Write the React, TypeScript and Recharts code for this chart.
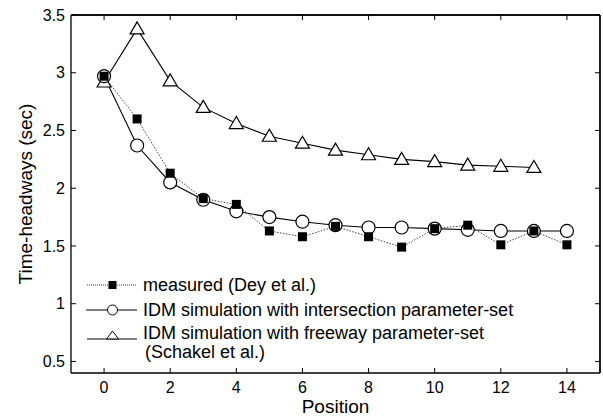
import React from 'react';
import { LineChart, Line, XAxis, YAxis, Legend, CartesianGrid, ReferenceLine } from 'recharts';

// positions along the platoon
const positions = [0, 1, 2, 3, 4, 5, 6, 7, 8, 9, 10, 11, 12, 13, 14];
// measured headways (Dey et al.)
const measured = [2.97, 2.6, 2.13, 1.91, 1.86, 1.63, 1.58, 1.67, 1.58, 1.49, 1.65, 1.68, 1.51, 1.63, 1.51];
// IDM, intersection parameter-set
const intersection = [2.97, 2.37, 2.05, 1.9, 1.8, 1.75, 1.71, 1.68, 1.66, 1.66, 1.65, 1.64, 1.63, 1.63, 1.63];
// IDM, freeway parameter-set (no value at 14)
const freeway = [2.92, 3.38, 2.93, 2.7, 2.56, 2.45, 2.39, 2.33, 2.29, 2.25, 2.23, 2.2, 2.19, 2.18, null];

const xTicks = [0, 2, 4, 6, 8, 10, 12, 14];
const yTicks = [0.5, 1, 1.5, 2, 2.5, 3, 3.5];
const xDomain = [-1, 15];
const yDomain = [0.4, 3.5];

const data = positions.map((p, i) => ({
  pos: p,
  measured: measured[i],
  intersection: intersection[i],
  freeway: freeway[i],
}));

const FONT = '"Liberation Sans", Arial, sans-serif';
const W = 603;
const H = 416;
const M = { top: 15, right: 3, bottom: 0, left: 0 };

// ticks point into the plot (matlab style), mirrored on the opposite edge too
const BottomTick = ({ x, y, payload }: any) => (
  <g>
    <path d={`M${x},${y}V${y - 5}M${x},${M.top}V${M.top + 5}`} stroke="#000" strokeWidth={1} fill="none" />
    <text x={x} y={y + 9} dy="0.71em" textAnchor="middle" fontSize={16} fontFamily={FONT} fill="#000">
      {payload.value}
    </text>
  </g>
);
const LeftTick = ({ x, y, payload }: any) => (
  <g>
    <path d={`M${x},${y}H${x + 5}M${W - M.right},${y}H${W - M.right - 5}`} stroke="#000" strokeWidth={1} fill="none" />
    <text x={x - 6} y={y} dy="0.355em" textAnchor="end" fontSize={16} fontFamily={FONT} fill="#000">
      {payload.value}
    </text>
  </g>
);

const Square = (props: any) => {
  const { cx, cy, index } = props;
  if (cx == null || cy == null) return <g key={`sq-${index}`} />;
  return <rect key={`sq-${index}`} x={cx - 4.5} y={cy - 4.5} width={9} height={9} fill="#000" />;
};

const Triangle = (props: any) => {
  const { cx, cy, index } = props;
  if (cx == null || cy == null) return <g key={`tr-${index}`} />;
  return (
    <polygon
      key={`tr-${index}`}
      points={`${cx},${cy - 7} ${cx - 7},${cy + 5} ${cx + 7},${cy + 5}`}
      fill="#fff"
      stroke="#000"
      strokeWidth={1.2}
    />
  );
};

// legend drawn as its own little svg, placed inside the plot area
const LegendBox = () => (
  <svg width={460} height={100} style={{ fontFamily: FONT, display: 'block' }}>
    <line x1={1} x2={51} y1={15} y2={15} stroke="#444" strokeDasharray="1 1" />
    <rect x={22.5} y={11} width={8} height={8} fill="#000" />
    <text x={57} y={15} fontSize={18} dy="0.35em">measured (Dey et al.)</text>

    <line x1={-1} x2={51} y1={40} y2={40} stroke="#000" />
    <circle cx={26.5} cy={40} r={5} fill="#fff" stroke="#000" />
    <text x={57} y={40} fontSize={18} dy="0.35em">IDM simulation with intersection parameter-set</text>

    <line x1={1} x2={51} y1={69} y2={69} stroke="#000" />
    <polygon points="26.5,61 20.5,69 32.5,69" fill="#fff" stroke="#000" />
    <text x={57} y={63} fontSize={18} dy="0.35em">IDM simulation with freeway parameter-set</text>
    <text x={59} y={82} fontSize={18} dy="0.35em">(Schakel et al.)</text>
  </svg>
);

export default function App() {
  return (
    <div style={{ position: 'absolute', left: 0, top: 0, background: '#fff', fontFamily: FONT }}>
      <LineChart width={W} height={H} data={data} margin={M}>
        {/* top and right edges of the box */}
        <CartesianGrid
          stroke="#000"
          strokeWidth={1.3}
          horizontalCoordinatesGenerator={({ offset }: any) => [offset.top]}
          verticalCoordinatesGenerator={({ offset }: any) => [offset.left + offset.width]}
        />
        <ReferenceLine y={yDomain[1]} stroke="#000" strokeWidth={1.3} ifOverflow="visible" />
        <ReferenceLine x={xDomain[1]} stroke="#000" strokeWidth={1.3} ifOverflow="visible" />
        <XAxis
          dataKey="pos"
          type="number"
          domain={xDomain}
          ticks={xTicks}
          interval={0}
          allowDataOverflow
          height={43}
          tickSize={0}
          tickMargin={0}
          tickLine={false}
          axisLine={{ stroke: '#000', strokeWidth: 1.3 }}
          tick={BottomTick}
          label={{ value: 'Position', position: 'insideBottom', offset: 3, fill: '#000', fontSize: 19, fontFamily: FONT }}
        />
        <YAxis
          type="number"
          domain={yDomain}
          ticks={yTicks}
          interval={0}
          allowDataOverflow
          width={71}
          tickSize={0}
          tickMargin={0}
          tickLine={false}
          axisLine={{ stroke: '#000', strokeWidth: 1.3 }}
          tick={LeftTick}
          label={{
            value: 'Time-headways (sec)',
            angle: -90,
            position: 'insideLeft',
            offset: 25,
            fill: '#000',
            fontSize: 19,
            fontFamily: FONT,
            style: { textAnchor: 'middle' },
          }}
        />
        <Legend
          layout="vertical"
          align="center"
          verticalAlign="middle"
          wrapperStyle={{ left: 86, top: 270, width: 460 }}
          content={<LegendBox />}
        />
        <Line
          dataKey="freeway"
          stroke="#000"
          strokeWidth={1.1}
          dot={Triangle}
          activeDot={false}
          isAnimationActive={false}
        />
        <Line
          dataKey="intersection"
          stroke="#000"
          strokeWidth={1.1}
          dot={{ r: 6.5, fill: '#fff', stroke: '#000', strokeWidth: 1.2 }}
          activeDot={false}
          isAnimationActive={false}
        />
        <Line
          dataKey="measured"
          stroke="#444"
          strokeWidth={1}
          strokeDasharray="1.5 1.5"
          dot={Square}
          activeDot={false}
          isAnimationActive={false}
        />
      </LineChart>
    </div>
  );
}
